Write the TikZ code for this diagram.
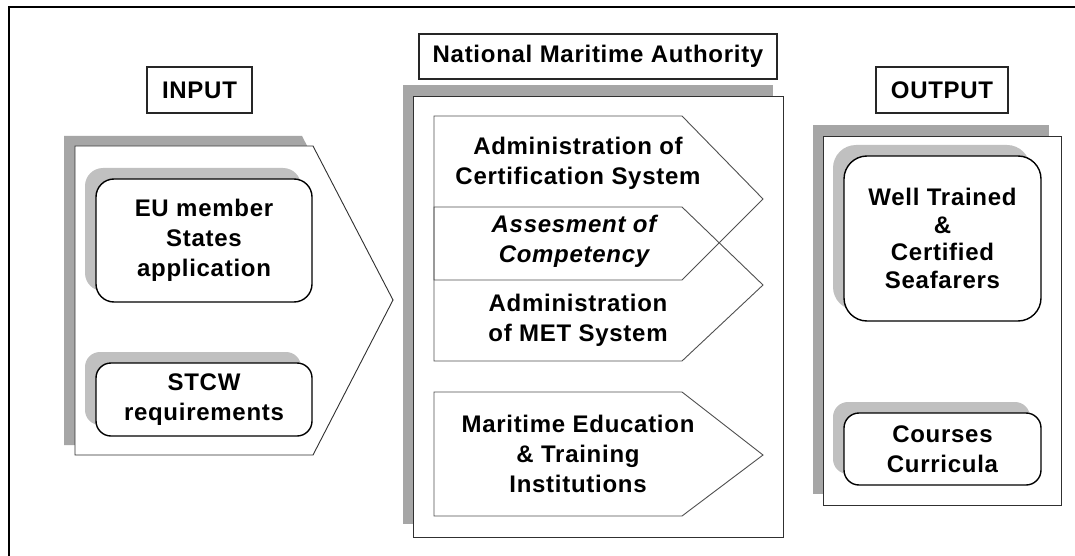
\documentclass[tikz,border=0pt]{standalone}
\usepackage{fontspec}
\setmainfont{Liberation Sans}[LetterSpace=3]
\usetikzlibrary{shadows}
\definecolor{shadowdark}{HTML}{A6A6A6}
\definecolor{shadowlight}{HTML}{C0C0C0}
\definecolor{chevline}{HTML}{505050}
\definecolor{panelline}{HTML}{303030}
\begin{document}
\begin{tikzpicture}[x=1pt,y=-1pt,
  txt/.style={font=\fontsize{24}{30}\selectfont\bfseries, align=center, inner sep=0pt},
  titlebox/.style={txt, draw=black!85, line width=1.4pt, fill=white},
  rbox/.style={txt, draw=black, line width=1.4pt, fill=white, rounded corners=18pt,
     general shadow={fill=shadowlight, shadow xshift=-11pt, shadow yshift=11pt}},
  panel/.style={fill=white, draw=panelline, line width=0.9pt},
  panelshadow/.style={fill=shadowdark, draw=none},
  chev/.style={draw=chevline, line width=0.9pt}]
\useasboundingbox (0,0) rectangle (1075,556);
\fill[white] (0,0) rectangle (1075,556);
% outer frame
\draw[line width=2.4pt] (9,560) -- (9,7) -- (1080,7);

% title boxes
\node[titlebox, minimum width=105pt, minimum height=46pt] (input) at (199.5,90) {INPUT};
\node[titlebox, minimum width=358pt, minimum height=45pt] (nma) at (598,56.5) {National Maritime Authority};
\node[titlebox, minimum width=132pt, minimum height=46pt] (output) at (942,90) {OUTPUT};

% input chevron
\fill[panelshadow] (64,136) -- (302,136) -- (382,290) -- (302,445) -- (64,445) -- cycle;
\draw[panel] (75,146) -- (313,146) -- (393,300) -- (313,455) -- (75,455) -- cycle;
\node[rbox, minimum width=216pt, minimum height=123pt] (eu) at (204,240.5) {EU member\\States\\application};
\node[rbox, rounded corners=15pt, minimum width=216pt, minimum height=73pt] (stcw) at (204,399.5) {STCW\\requirements};

% centre panel
\fill[panelshadow] (403,85) rectangle (773,524);
\draw[panel] (413,96) rectangle (783,537);
\draw[chev] (434,116) -- (682,116) -- (763,199) -- (682,280) -- (434,280) -- cycle;
\draw[chev] (434,207) -- (682,207) -- (763,285) -- (682,361) -- (434,361) -- cycle;
\draw[chev] (434,392) -- (682,392) -- (763,455) -- (682,516) -- (434,516) -- cycle;
\node[txt] (cert) at (578,163) {Administration of\\Certification System};
\node[txt, font=\fontsize{24}{30}\selectfont\bfseries\itshape] (assess) at (574,241.5) {Assesment of\\Competency};
\node[txt] (met) at (578,320) {Administration\\of MET System};
\node[txt] (mete) at (578,454) {Maritime Education\\\& Training\\Institutions};

% output panel
\fill[panelshadow] (813,125) rectangle (1049,494);
\draw[panel] (823,136) rectangle (1061,505);
\node[rbox, rounded corners=23pt, minimum width=197pt, minimum height=165pt,
  font=\fontsize{24}{27.5}\selectfont\bfseries] (well) at (942.5,238.5) {Well Trained\\\&\\Certified\\Seafarers};
\node[rbox, rounded corners=15pt, minimum width=197pt, minimum height=72pt] (courses) at (942.5,449) {Courses\\Curricula};
\end{tikzpicture}
\end{document}
